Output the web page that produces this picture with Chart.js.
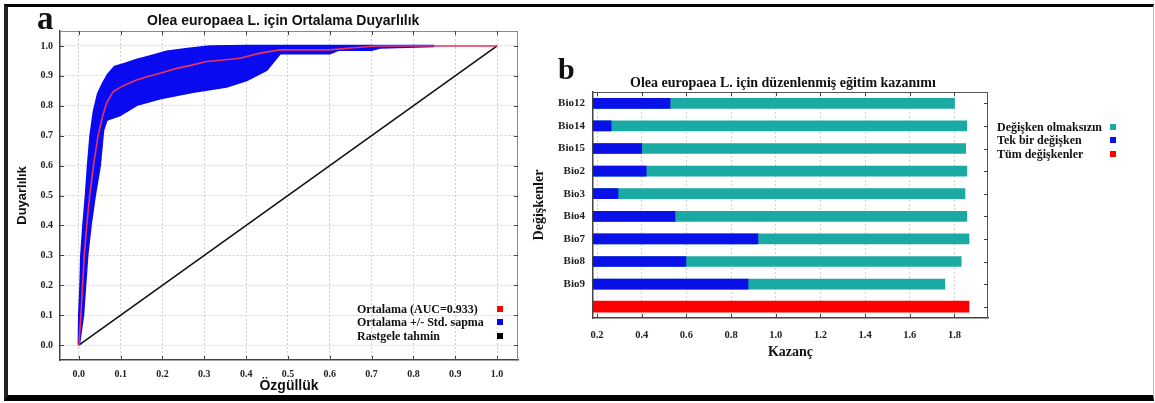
<!DOCTYPE html>
<html>
<head>
<meta charset="utf-8">
<script src="https://cdn.jsdelivr.net/npm/chart.js@4.4.1/dist/chart.umd.min.js"></script>
<style>
  html, body { margin:0; padding:0; background:#fff; }
  #wrap { position:relative; width:1155px; height:403px; overflow:hidden; background:#fff; }
  #frame { position:absolute; left:4px; top:4px; width:1145px; height:388px;
           border-top:3px solid #000; border-left:4px solid #222; border-bottom:6px solid #000; border-right:1px solid #bbb; }
  canvas { position:absolute; }
  .t { position:absolute; white-space:nowrap; color:#111; }
  .serif { font-family:'Liberation Serif', 'DejaVu Serif', serif; font-weight:bold; }
  .sans { font-family:'Liberation Sans', Arial, sans-serif; font-weight:bold; }
  .sq { position:absolute; width:6px; height:6px; }
</style>
</head>
<body>
<div id="wrap">
  <div id="frame"></div>
  <canvas id="ca" width="513" height="390" style="left:12px; top:8px;"></canvas>
  <canvas id="cb" width="480" height="305" style="left:525px; top:60px;"></canvas>

  <div class="t serif" style="left:37px; top:2px; font-size:33px; line-height:33px;">a</div>
  <div class="t sans" style="left:147px; top:12px; font-size:14px; line-height:16px;">Olea europaea L. için Ortalama Duyarlılık</div>

  <div class="t serif" style="left:357px; top:302px; font-size:12px; line-height:14px;">Ortalama (AUC=0.933)</div>
  <div class="t serif" style="left:357px; top:315px; font-size:12px; line-height:14px;">Ortalama +/- Std. sapma</div>
  <div class="t serif" style="left:357px; top:329px; font-size:12px; line-height:14px;">Rastgele tahmin</div>
  <div class="sq" style="left:497px; top:306px; background:#ff0000;"></div>
  <div class="sq" style="left:497px; top:319px; background:#0000ff;"></div>
  <div class="sq" style="left:497px; top:333px; background:#000;"></div>

  <div class="t serif" style="left:558px; top:54px; font-size:30px; line-height:30px;">b</div>
  <div class="t serif" style="left:630px; top:75px; font-size:14px; line-height:16px;">Olea europaea L. için düzenlenmiş eğitim kazanımı</div>

  <div class="t serif" style="left:997px; top:120px; font-size:12px; line-height:14px;">Değişken olmaksızın</div>
  <div class="t serif" style="left:997px; top:133px; font-size:12px; line-height:14px;">Tek bir değişken</div>
  <div class="t serif" style="left:997px; top:147px; font-size:12px; line-height:14px;">Tüm değişkenler</div>
  <div class="sq" style="left:1110px; top:124px; background:#1aa9a3;"></div>
  <div class="sq" style="left:1110px; top:137px; background:#0a10e8;"></div>
  <div class="sq" style="left:1110px; top:151px; background:#ff0000;"></div>
</div>
<script>
// ---------- Panel a data (ROC) ----------
const meanFpr = [0, 0.005, 0.009, 0.013, 0.019, 0.026, 0.035, 0.046, 0.056, 0.066, 0.082, 0.102, 0.12, 0.138, 0.165, 0.194, 0.234, 0.27, 0.305, 0.345, 0.385, 0.433, 0.481, 0.6, 0.65, 0.71, 1.0];
const meanTpr = [0, 0.1, 0.2, 0.3, 0.4, 0.5, 0.6, 0.7, 0.76, 0.808, 0.847, 0.864, 0.875, 0.886, 0.898, 0.909, 0.925, 0.936, 0.948, 0.953, 0.959, 0.976, 0.987, 0.987, 0.993, 1.0, 1.0];

const upperFpr = [0, 0.001, 0.004, 0.006, 0.011, 0.017, 0.022, 0.028, 0.036, 0.046, 0.058, 0.07, 0.086, 0.11, 0.138, 0.17, 0.21, 0.26, 0.313, 0.4, 0.85];
const upperTpr = [0, 0.1, 0.2, 0.3, 0.4, 0.5, 0.6, 0.7, 0.78, 0.84, 0.875, 0.905, 0.93, 0.94, 0.953, 0.965, 0.981, 0.99, 0.998, 1.0, 1.0];

const lowerFpr = [0, 0.01, 0.015, 0.02, 0.028, 0.038, 0.05, 0.054, 0.058, 0.066, 0.098, 0.138, 0.194, 0.273, 0.353, 0.401, 0.449, 0.481, 0.6, 0.62, 0.7, 0.72, 0.85];
const lowerTpr = [0, 0.1, 0.2, 0.3, 0.4, 0.5, 0.6, 0.66, 0.719, 0.753, 0.769, 0.803, 0.825, 0.847, 0.864, 0.886, 0.92, 0.976, 0.976, 0.987, 0.987, 0.995, 1.0];

const randomFpr = [0, 1];
const randomTpr = [0, 1];

const rocTicks = [0, 0.1, 0.2, 0.3, 0.4, 0.5, 0.6, 0.7, 0.8, 0.9, 1.0];

// ---------- Panel b data (jackknife) ----------
const variables = ['Bio12', 'Bio14', 'Bio15', 'Bio2', 'Bio3', 'Bio4', 'Bio7', 'Bio8', 'Bio9', ''];
const withoutVariable = [1.80, 1.855, 1.85, 1.855, 1.847, 1.855, 1.865, 1.83, 1.757, null];
const withOnlyVariable = [0.527, 0.263, 0.40, 0.42, 0.294, 0.549, 0.92, 0.598, 0.876, null];
const withAllVariables = [null, null, null, null, null, null, null, null, null, 1.865];
const gainTicks = [0.2, 0.4, 0.6, 0.8, 1.0, 1.2, 1.4, 1.6, 1.8];

// ---------- helpers ----------
const toXY = (xs, ys) => xs.map((x, i) => ({x: x, y: ys[i]}));
const bandPolygon = toXY(upperFpr, upperTpr).concat(toXY(lowerFpr, lowerTpr).reverse());

const SERIF = "'Liberation Serif', 'DejaVu Serif', serif";
const SANS = "'Liberation Sans', Arial, sans-serif";

const framePlugin = {
  id: 'frameTicks',
  afterDatasetsDraw(chart, args, opts) {
    const {ctx, chartArea: a} = chart;
    const xs = chart.scales.x, ys = chart.scales.y;
    ctx.save();
    ctx.strokeStyle = opts.color || '#666';
    ctx.lineWidth = 1;
    ctx.beginPath();
    ctx.moveTo(a.left, a.top + 0.5); ctx.lineTo(a.right, a.top + 0.5);
    ctx.moveTo(a.right - 0.5, a.top); ctx.lineTo(a.right - 0.5, a.bottom);
    ctx.stroke();
    ctx.strokeStyle = '#444';
    ctx.beginPath();
    xs.ticks.forEach(t => {
      const p = Math.round(xs.getPixelForValue(t.value)) + 0.5;
      ctx.moveTo(p, a.top); ctx.lineTo(p, a.top + 4);
      if (opts.bottomTicks) { ctx.moveTo(p, a.bottom); ctx.lineTo(p, a.bottom - 4); }
    });
    ys.ticks.forEach((t, i) => {
      const p = Math.round(ys.getPixelForTick(i)) + 0.5;
      ctx.moveTo(a.right, p); ctx.lineTo(a.right - 4, p);
      if (opts.leftTicks) { ctx.moveTo(a.left, p); ctx.lineTo(a.left + 4, p); }
    });
    ctx.stroke();
    ctx.restore();
  }
};

// ---------- Panel a chart ----------
new Chart(document.getElementById('ca'), {
  type: 'scatter',
  data: {
    datasets: [
      { label: 'Rastgele tahmin', data: toXY(randomFpr, randomTpr), showLine: true, borderColor: '#111', borderWidth: 1.6, pointRadius: 0, order: 3 },
      { label: 'Ortalama +/- Std. sapma', data: bandPolygon, showLine: true, fill: 'shape', backgroundColor: '#0a0af0', borderColor: '#0a0af0', borderWidth: 2.5, pointRadius: 0, order: 2 },
      { label: 'Ortalama (AUC=0.933)', data: toXY(meanFpr, meanTpr), showLine: true, borderColor: '#e83262', borderWidth: 1.6, pointRadius: 0, order: 1 }
    ]
  },
  options: {
    responsive: false, animation: false, devicePixelRatio: 1,
    layout: { padding: { left: 0, right: 7, top: 23, bottom: 0 } },
    plugins: { legend: { display: false }, tooltip: { enabled: false }, frameTicks: { color: '#8a8a8a', leftTicks: true, bottomTicks: true } },
    scales: {
      x: {
        type: 'linear', min: -0.045, max: 1.05,
        afterBuildTicks: s => { s.ticks = rocTicks.map(v => ({value: v})); },
        afterFit: s => { s.height = 38; },
        ticks: { padding: 8, color: '#222', font: { family: SERIF, size: 10, weight: 'bold' }, callback: v => v.toFixed(1), maxRotation: 0 },
        grid: { color: '#cfcfcf', drawTicks: false },
        border: { display: true, color: '#444', width: 1.5, dash: [2, 2] },
        title: { display: true, text: 'Özgüllük', color: '#111', font: { family: SANS, size: 14, weight: 'bold' }, padding: { top: 0, bottom: 3 } }
      },
      y: {
        type: 'linear', min: -0.05, max: 1.05,
        afterBuildTicks: s => { s.ticks = rocTicks.map(v => ({value: v})); },
        afterFit: s => { s.width = 48; },
        ticks: { padding: 7, color: '#222', font: { family: SERIF, size: 10, weight: 'bold' }, callback: v => v.toFixed(1) },
        grid: { color: '#cfcfcf', drawTicks: false },
        border: { display: true, color: '#444', width: 1.5, dash: [2, 2] },
        title: { display: true, text: 'Duyarlılık', color: '#111', font: { family: SANS, size: 13, weight: 'bold' }, padding: { top: 3, bottom: 0 } }
      }
    }
  },
  plugins: [framePlugin]
});

// ---------- Panel b chart ----------
new Chart(document.getElementById('cb'), {
  type: 'bar',
  data: {
    labels: variables,
    datasets: [
      { label: 'Tek bir değişken', data: withOnlyVariable, backgroundColor: '#0a10e8', grouped: false, barThickness: 10, order: 1 },
      { label: 'Değişken olmaksızın', data: withoutVariable, backgroundColor: '#1aa9a3', grouped: false, barThickness: 10, order: 2 },
      { label: 'Tüm değişkenler', data: withAllVariables, backgroundColor: '#ff0000', grouped: false, barThickness: 11, order: 3 }
    ]
  },
  options: {
    indexAxis: 'y',
    responsive: false, animation: false, devicePixelRatio: 1,
    layout: { padding: { left: 0, right: 17, top: 32, bottom: 0 } },
    plugins: { legend: { display: false }, tooltip: { enabled: false }, frameTicks: { color: '#555', leftTicks: false, bottomTicks: true } },
    scales: {
      x: {
        type: 'linear', min: 0.182, max: 1.95,
        afterBuildTicks: s => { s.ticks = gainTicks.map(v => ({value: v})); },
        afterFit: s => { s.height = 47; },
        ticks: { padding: 11, color: '#222', font: { family: SERIF, size: 10.5, weight: 'bold' }, callback: v => v.toFixed(1), maxRotation: 0 },
        grid: { color: '#d2d2d2', drawTicks: false },
        border: { display: true, color: '#444', width: 1.5, dash: [2, 2] },
        title: { display: true, text: 'Kazanç', color: '#111', font: { family: SERIF, size: 14, weight: 'bold' }, padding: { top: 0, bottom: 4 } }
      },
      y: {
        afterFit: s => { s.width = 68; },
        ticks: { padding: 8, color: '#222', font: { family: SERIF, size: 11, weight: 'bold' } },
        grid: { display: false, drawTicks: false },
        border: { display: true, color: '#444', width: 1.5 },
        title: { display: true, text: 'Değişkenler', color: '#111', font: { family: SERIF, size: 14, weight: 'bold' }, padding: { top: 6, bottom: 0 } }
      }
    }
  },
  plugins: [framePlugin]
});
</script>
</body>
</html>
